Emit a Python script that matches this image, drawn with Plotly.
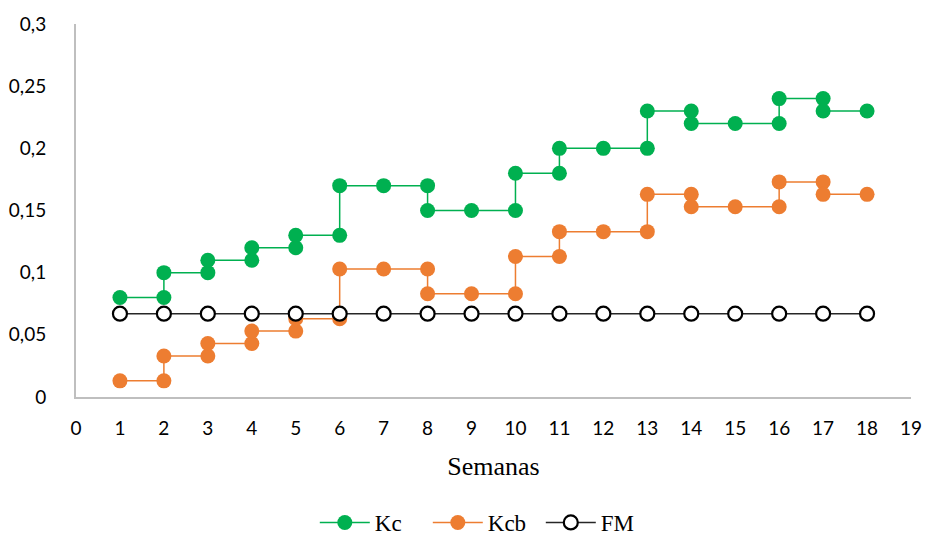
import plotly.graph_objects as go

# Weekly coefficients: each week carries its start and end value, giving a stepped trace
semanas_kc = [1, 2, 2, 3, 3, 4, 4, 5, 5, 6, 6, 7, 8, 8, 9, 10, 10, 11, 11, 12, 13, 13, 14, 14, 15, 16, 16, 17, 17, 18]
kc = [0.08, 0.08, 0.10, 0.10, 0.11, 0.11, 0.12, 0.12, 0.13, 0.13, 0.17, 0.17, 0.17, 0.15, 0.15,
      0.15, 0.18, 0.18, 0.20, 0.20, 0.20, 0.23, 0.23, 0.22, 0.22, 0.22, 0.24, 0.24, 0.23, 0.23]

semanas_kcb = semanas_kc
kcb = [0.013, 0.013, 0.033, 0.033, 0.043, 0.043, 0.053, 0.053, 0.063, 0.063, 0.103, 0.103, 0.103, 0.083, 0.083,
       0.083, 0.113, 0.113, 0.133, 0.133, 0.133, 0.163, 0.163, 0.153, 0.153, 0.153, 0.173, 0.173, 0.163, 0.163]

semanas_fm = list(range(1, 19))
fm = [0.067] * 18

verde = "#00B050"
laranja = "#ED7D31"
serif = "Liberation Serif"
sans = "Lato"

fig = go.Figure()
fig.add_trace(go.Scatter(
    x=semanas_kc, y=kc, name="Kc", mode="lines+markers",
    line=dict(color=verde, width=1.5),
    marker=dict(color=verde, size=15, line=dict(width=0)),
))
fig.add_trace(go.Scatter(
    x=semanas_kcb, y=kcb, name="Kcb", mode="lines+markers",
    line=dict(color=laranja, width=1.5),
    marker=dict(color=laranja, size=15, line=dict(width=0)),
))
fig.add_trace(go.Scatter(
    x=semanas_fm, y=fm, name="FM", mode="lines+markers",
    line=dict(color="#262626", width=1.5),
    marker=dict(color="white", size=14, line=dict(color="black", width=2.2)),
))

fig.update_layout(
    width=926, height=544,
    margin=dict(l=76, r=15, t=24, b=147),
    plot_bgcolor="white", paper_bgcolor="white",
    separators=", ",
    showlegend=True,
    legend=dict(
        orientation="h", xref="container", x=0.523, xanchor="center",
        yref="container", y=-0.024, yanchor="bottom",
        font=dict(family=serif, size=23, color="#000000"),
        traceorder="normal", itemwidth=50, entrywidth=48,
    ),
    xaxis=dict(
        range=[0, 19], dtick=1, tick0=0, showgrid=False, zeroline=False,
        showline=True, linecolor="#BFBFBF", linewidth=2, automargin=False,
        ticks="outside", ticklen=13, tickcolor="rgba(0,0,0,0)",
        tickfont=dict(family=sans, size=19, color="#000000"),
        title=dict(text="Semanas", standoff=19,
                   font=dict(family=serif, size=26, color="#000000")),
    ),
    yaxis=dict(
        range=[0, 0.3], dtick=0.05, tick0=0, showgrid=False, zeroline=False,
        showline=True, linecolor="#BFBFBF", linewidth=2, automargin=False,
        ticks="outside", ticklen=24, tickcolor="rgba(0,0,0,0)",
        tickfont=dict(family=sans, size=19, color="#000000"),
    ),
)

fig.write_html("out.html")
